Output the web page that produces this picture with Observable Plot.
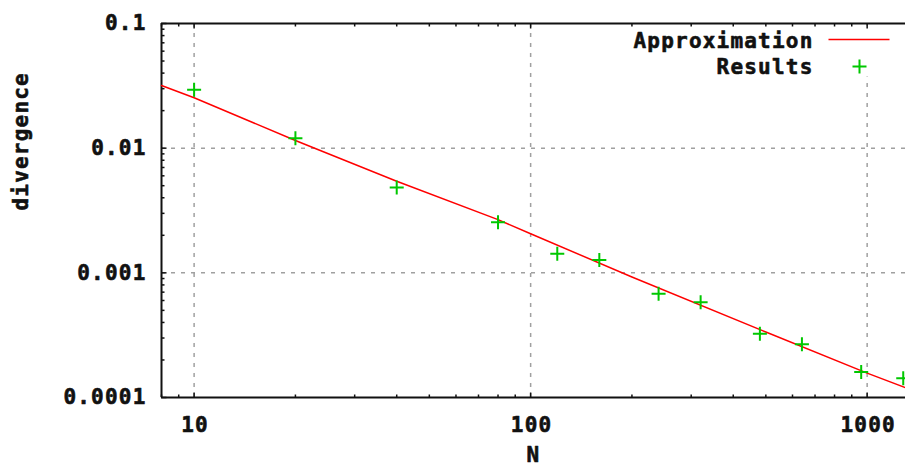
<!DOCTYPE html>
<html>
<head>
<meta charset="utf-8">
<script src="https://cdn.jsdelivr.net/npm/d3@7"></script>
<script src="https://cdn.jsdelivr.net/npm/@observablehq/plot@0.6"></script>
<style>
  html, body { margin: 0; padding: 0; background: #fff; }
</style>
</head>
<body>
<div id="chart"></div>
<script>
// ---- data ----
const resultsN = [10, 20, 40, 80, 120, 160, 240, 320, 480, 640, 960, 1280];
const resultsDivergence = [0.0294, 0.0120, 0.00484, 0.00255, 0.00142, 0.00127, 0.000679, 0.000582, 0.000325, 0.000267, 0.000160, 0.000143];

const approxN = [8, 10, 20, 40, 80, 100, 200, 500, 1000, 1300];
const approxDivergence = [0.0318, 0.0254, 0.01153, 0.00543, 0.00267, 0.00206, 0.000925, 0.000335, 0.000157, 0.000120];

const xDomain = [8, 1300];
const yDomain = [0.0001, 0.1];
const xTicksMajor = [10, 100, 1000];
const xTickLabels = ["10", "100", "1000"];
const xTicksMinor = [8, 9, 20, 30, 40, 50, 60, 70, 80, 90, 200, 300, 400, 500, 600, 700, 800, 900];
const yTicksMajor = [0.0001, 0.001, 0.01, 0.1];
const yTickLabels = ["0.0001", "0.001", "0.01", "0.1"];
const yTicksMinor = [0.0002, 0.0003, 0.0004, 0.0005, 0.0006, 0.0007, 0.0008, 0.0009,
                     0.002, 0.003, 0.004, 0.005, 0.006, 0.007, 0.008, 0.009,
                     0.02, 0.03, 0.04, 0.05, 0.06, 0.07, 0.08, 0.09];
const seriesNames = ["Approximation", "Results"];
const xLabel = "N";
const yLabel = "divergence";

// ---- tables ----
const results = resultsN.map((n, i) => ({n, v: resultsDivergence[i]}));
const approx = approxN.map((n, i) => ({n, v: approxDivergence[i]}));

// ---- custom symbols ----
const plusSym = {draw(ctx) { const r = 7; ctx.moveTo(-r, 0); ctx.lineTo(r, 0); ctx.moveTo(0, -r); ctx.lineTo(0, r); }};
const lineSym = {draw(ctx) { ctx.moveTo(-30.5, 0); ctx.lineTo(30.5, 0); }};
const tickUp = (l) => ({draw(ctx) { ctx.moveTo(0, 0); ctx.lineTo(0, -l); }});
const tickDown = (l) => ({draw(ctx) { ctx.moveTo(0, 0); ctx.lineTo(0, l); }});
const tickRight = (l) => ({draw(ctx) { ctx.moveTo(0, 0); ctx.lineTo(l, 0); }});
const boxSym = {draw(ctx) { ctx.rect(-285, 2, 285, 51); }};

const red = "#ff0000";
const green = "#00c800";
const gridColor = "#a0a0a0";
const ink = "#111";
const txt = {fill: ink, stroke: ink, strokeWidth: 0.6, lineAnchor: "middle"};

const chart = Plot.plot({
  width: 905,
  height: 468,
  marginLeft: 161,
  marginRight: 0,
  marginTop: 23,
  marginBottom: 71,
  style: {
    fontFamily: "'DejaVu Sans Mono', monospace",
    fontSize: "21px",
    fontWeight: "bold",
    letterSpacing: "1.2px",
    background: "#fff",
    overflow: "visible"
  },
  x: {type: "log", domain: xDomain, axis: null},
  y: {type: "log", domain: yDomain, axis: null},
  marks: [
    // grid
    Plot.ruleX(xTicksMajor, {x: d => d, stroke: gridColor, strokeWidth: 1.5, strokeDasharray: "4,6"}),
    Plot.ruleY(yTicksMajor.slice(1, 3), {y: d => d, stroke: gridColor, strokeWidth: 1.5, strokeDasharray: "4,6"}),
    // legend background (key area)
    Plot.dot([0], {frameAnchor: "top-right", symbol: boxSym, fill: "#fff", stroke: "none"}),
    // border
    Plot.ruleY([yDomain[0], yDomain[1]], {y: d => d, stroke: ink, strokeWidth: 2}),
    Plot.ruleX([xDomain[0]], {x: d => d, stroke: ink, strokeWidth: 2}),
    // ticks (inward, mirrored on top)
    Plot.dot(xTicksMajor, {x: d => d, frameAnchor: "bottom", symbol: tickUp(5), stroke: ink, strokeWidth: 1.5, fill: "none"}),
    Plot.dot(xTicksMinor, {x: d => d, frameAnchor: "bottom", symbol: tickUp(3), stroke: ink, strokeWidth: 1.5, fill: "none"}),
    Plot.dot(xTicksMajor, {x: d => d, frameAnchor: "top", symbol: tickDown(5), stroke: ink, strokeWidth: 1.5, fill: "none"}),
    Plot.dot(xTicksMinor, {x: d => d, frameAnchor: "top", symbol: tickDown(3), stroke: ink, strokeWidth: 1.5, fill: "none"}),
    Plot.dot(yTicksMajor, {y: d => d, frameAnchor: "left", symbol: tickRight(5), stroke: ink, strokeWidth: 1.5, fill: "none"}),
    Plot.dot(yTicksMinor, {y: d => d, frameAnchor: "left", symbol: tickRight(3), stroke: ink, strokeWidth: 1.5, fill: "none"}),
    // tick labels
    Plot.text(xTicksMajor, {x: d => d, frameAnchor: "bottom", text: (d, i) => xTickLabels[i], dy: 28, dx: 1, ...txt}),
    Plot.text(yTicksMajor, {y: d => d, frameAnchor: "left", text: (d, i) => yTickLabels[i], textAnchor: "end", dx: -15, ...txt}),
    // axis labels
    Plot.text([xLabel], {frameAnchor: "bottom", dy: 58, ...txt}),
    Plot.text([yLabel], {frameAnchor: "left", dx: -140, rotate: -90, ...txt}),
    // data
    Plot.line(approx, {x: "n", y: "v", stroke: red, strokeWidth: 1.5}),
    Plot.dot(results, {x: "n", y: "v", symbol: plusSym, stroke: green, strokeWidth: 2, fill: "none"}),
    // legend
    Plot.text([seriesNames[0]], {frameAnchor: "top-right", dx: -92, dy: 18, textAnchor: "end", ...txt}),
    Plot.dot([0], {frameAnchor: "top-right", dx: -46.5, dy: 16, symbol: lineSym, stroke: red, strokeWidth: 1.5, fill: "none"}),
    Plot.text([seriesNames[1]], {frameAnchor: "top-right", dx: -92, dy: 44, textAnchor: "end", ...txt}),
    Plot.dot([0], {frameAnchor: "top-right", dx: -46, dy: 43, symbol: plusSym, stroke: green, strokeWidth: 2, fill: "none"})
  ]
});
document.getElementById("chart").appendChild(chart);
</script>
</body>
</html>
